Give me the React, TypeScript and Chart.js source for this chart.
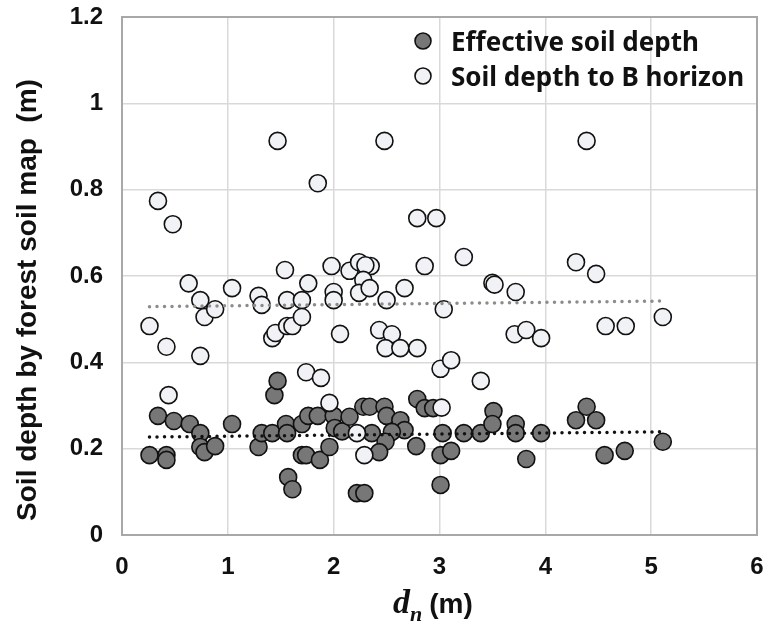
import React, { useEffect, useRef } from "react";
import { Chart, registerables } from "chart.js";

Chart.register(...registerables);

// Effective soil depth (filled markers): [d_n (m), depth (m)]
const effectiveX = [0.26, 0.34, 0.42, 0.42, 0.49, 0.64, 0.74, 0.74, 0.78, 0.88, 1.04, 1.29, 1.32, 1.42, 1.44, 1.47, 1.55, 1.56, 1.57, 1.61, 1.70, 1.70, 1.74, 1.76, 1.85, 1.87, 1.96, 2.0, 2.01, 2.08, 2.15, 2.28, 2.34, 2.48, 2.5, 2.63, 2.67, 2.55, 2.36, 2.49, 2.43, 2.78, 2.79, 2.86, 2.94, 3.03, 3.01, 3.11, 3.01, 2.22, 2.29, 3.23, 3.39, 3.51, 3.50, 3.72, 3.72, 3.82, 3.96, 4.29, 4.39, 4.48, 4.56, 4.75, 5.11];
const effectiveY = [0.185, 0.276, 0.185, 0.174, 0.264, 0.257, 0.236, 0.204, 0.192, 0.206, 0.257, 0.204, 0.236, 0.236, 0.324, 0.357, 0.257, 0.236, 0.134, 0.106, 0.257, 0.185, 0.185, 0.276, 0.276, 0.174, 0.204, 0.276, 0.248, 0.24, 0.274, 0.297, 0.297, 0.297, 0.276, 0.266, 0.243, 0.239, 0.236, 0.216, 0.192, 0.206, 0.315, 0.294, 0.294, 0.236, 0.185, 0.195, 0.116, 0.097, 0.097, 0.236, 0.236, 0.287, 0.257, 0.257, 0.236, 0.176, 0.236, 0.266, 0.297, 0.266, 0.185, 0.195, 0.216];

// Soil depth to B horizon (open markers)
const bHorizonX = [0.26, 0.34, 0.48, 0.42, 0.44, 0.63, 0.74, 0.74, 0.78, 0.88, 1.04, 1.29, 1.32, 1.42, 1.45, 1.47, 1.54, 1.56, 1.56, 1.61, 1.70, 1.70, 1.74, 1.76, 1.85, 1.88, 1.96, 1.98, 2.0, 2.0, 2.06, 2.15, 2.24, 2.35, 2.3, 2.28, 2.24, 2.34, 2.5, 2.43, 2.55, 2.49, 2.63, 2.79, 2.67, 2.48, 2.79, 2.97, 2.86, 3.04, 3.01, 3.11, 3.02, 2.22, 2.29, 3.23, 3.39, 3.50, 3.52, 3.71, 3.72, 3.82, 3.96, 4.29, 4.39, 4.48, 4.57, 4.76, 5.11];
const bHorizonY = [0.484, 0.774, 0.72, 0.436, 0.324, 0.583, 0.544, 0.415, 0.505, 0.523, 0.572, 0.554, 0.533, 0.456, 0.468, 0.913, 0.614, 0.544, 0.484, 0.484, 0.544, 0.505, 0.377, 0.583, 0.815, 0.364, 0.306, 0.623, 0.563, 0.544, 0.466, 0.612, 0.632, 0.623, 0.625, 0.591, 0.561, 0.572, 0.544, 0.475, 0.465, 0.433, 0.433, 0.433, 0.572, 0.913, 0.734, 0.734, 0.623, 0.523, 0.385, 0.405, 0.295, 0.236, 0.185, 0.644, 0.357, 0.584, 0.58, 0.465, 0.563, 0.475, 0.456, 0.632, 0.913, 0.605, 0.484, 0.484, 0.505];

// Trend lines (start and end)
const trendX = [0.26, 5.11];
const effectiveTrendY = [0.227, 0.239];
const bHorizonTrendY = [0.529, 0.542];

const seriesNames = ["Effective soil depth", "Soil depth to B horizon"];
const yAxisTitle = "Soil depth by forest soil map  (m)";
const xAxisTitleVar = "d";
const xAxisTitleSub = "n";
const xAxisTitleUnit = "(m)";

const SANS = "'Liberation Sans', Arial, sans-serif";
const LEGEND_FONT = "'Noto Sans', 'Liberation Sans', sans-serif";
const FILLED = "#777777";
const OPEN = "#f0f2f5";

const toPoints = (xs: number[], ys: number[]) => xs.map((x, i) => ({ x, y: ys[i] }));

const decorPlugin = {
  id: "decor",
  afterDatasetsDraw(chart: any) {
    const { ctx, chartArea } = chart;
    ctx.save();
    // frame
    ctx.strokeStyle = "#a8a8a8";
    ctx.lineWidth = 2;
    ctx.strokeRect(chartArea.left, chartArea.top, chartArea.right - chartArea.left, chartArea.bottom - chartArea.top);

    // legend
    const items = [
      { label: seriesNames[0], fill: FILLED },
      { label: seriesNames[1], fill: OPEN },
    ];
    const lx = 423;
    items.forEach((it, i) => {
      const my = 41 + i * 35;
      ctx.beginPath();
      ctx.arc(lx, my, 8, 0, Math.PI * 2);
      ctx.fillStyle = it.fill;
      ctx.fill();
      ctx.lineWidth = 1.6;
      ctx.strokeStyle = "#111";
      ctx.stroke();
      ctx.fillStyle = "#111";
      ctx.font = `bold 26px ${LEGEND_FONT}`;
      ctx.textBaseline = "middle";
      ctx.textAlign = "left";
      ctx.fillText(it.label, 451, my + 3);
    });

    // y-axis title
    ctx.save();
    ctx.translate(28, 300);
    ctx.rotate(-Math.PI / 2);
    ctx.font = `bold 28px ${SANS}`;
    ctx.textAlign = "center";
    ctx.textBaseline = "middle";
    ctx.fillStyle = "#111";
    ctx.fillText(yAxisTitle, 0, 0);
    ctx.restore();

    // x-axis title
    ctx.fillStyle = "#111";
    ctx.textBaseline = "alphabetic";
    ctx.textAlign = "left";
    ctx.font = "bold italic 34px 'Liberation Serif', serif";
    ctx.fillText(xAxisTitleVar, 393, 613);
    const dw = ctx.measureText(xAxisTitleVar).width;
    ctx.font = "bold italic 22px 'Liberation Serif', serif";
    ctx.fillText(xAxisTitleSub, 393 + dw, 621);
    const nw = ctx.measureText(xAxisTitleSub).width;
    ctx.font = `bold 28px ${SANS}`;
    ctx.fillText(xAxisTitleUnit, 393 + dw + nw + 7, 613);
    ctx.restore();
  },
};

export default function App() {
  const ref = useRef<HTMLCanvasElement | null>(null);

  useEffect(() => {
    if (!ref.current) return;
    const chart = new Chart(ref.current, {
      type: "scatter",
      data: {
        datasets: [
          {
            type: "line",
            label: "trend-b",
            data: toPoints(trendX, bHorizonTrendY),
            borderColor: "#8c8c8c",
            borderWidth: 3.5,
            borderDash: [0, 7.5],
            borderCapStyle: "round",
            pointRadius: 0,
            fill: false,
            order: 0,
          } as any,
          {
            type: "line",
            label: "trend-e",
            data: toPoints(trendX, effectiveTrendY),
            borderColor: "#111111",
            borderWidth: 3.5,
            borderDash: [0, 7.5],
            borderCapStyle: "round",
            pointRadius: 0,
            fill: false,
            order: 0,
          } as any,
          {
            label: seriesNames[1],
            data: toPoints(bHorizonX, bHorizonY),
            backgroundColor: OPEN,
            borderColor: "#111111",
            borderWidth: 1.6,
            pointRadius: 8.5,
            order: 1,
          },
          {
            label: seriesNames[0],
            data: toPoints(effectiveX, effectiveY),
            backgroundColor: FILLED,
            borderColor: "#111111",
            borderWidth: 1.6,
            pointRadius: 8.5,
            order: 2,
          },
        ],
      },
      options: {
        animation: false,
        responsive: false,
        layout: { padding: { top: 17, right: 15, left: 0, bottom: 0 } },
        plugins: { legend: { display: false }, tooltip: { enabled: false } },
        scales: {
          x: {
            type: "linear",
            min: 0,
            max: 6,
            ticks: {
              stepSize: 1,
              color: "#111",
              font: { family: SANS, size: 24, weight: "bold" },
              padding: 18,
            },
            grid: { color: "#d9d9d9", lineWidth: 1.5, drawTicks: false },
            border: { display: false },
            afterFit: (s: any) => {
              s.height = 108;
              s.paddingLeft = 0;
              s.paddingRight = 0;
            },
          },
          y: {
            type: "linear",
            min: 0,
            max: 1.2,
            ticks: {
              stepSize: 0.2,
              color: "#111",
              font: { family: SANS, size: 24, weight: "bold" },
              padding: 19,
              callback: (v: any) => String(Math.round(Number(v) * 10) / 10),
            },
            grid: { color: "#d9d9d9", lineWidth: 1.5, drawTicks: false },
            border: { display: false },
            afterFit: (s: any) => {
              s.width = 122;
              s.paddingTop = 0;
              s.paddingBottom = 0;
            },
          },
        },
      },
      plugins: [decorPlugin],
    });
    return () => chart.destroy();
  }, []);

  return (
    <div style={{ position: "absolute", left: 0, top: 0, width: 772, height: 643, background: "#fff" }}>
      <canvas ref={ref} width={772} height={643} style={{ width: 772, height: 643 }} />
    </div>
  );
}
